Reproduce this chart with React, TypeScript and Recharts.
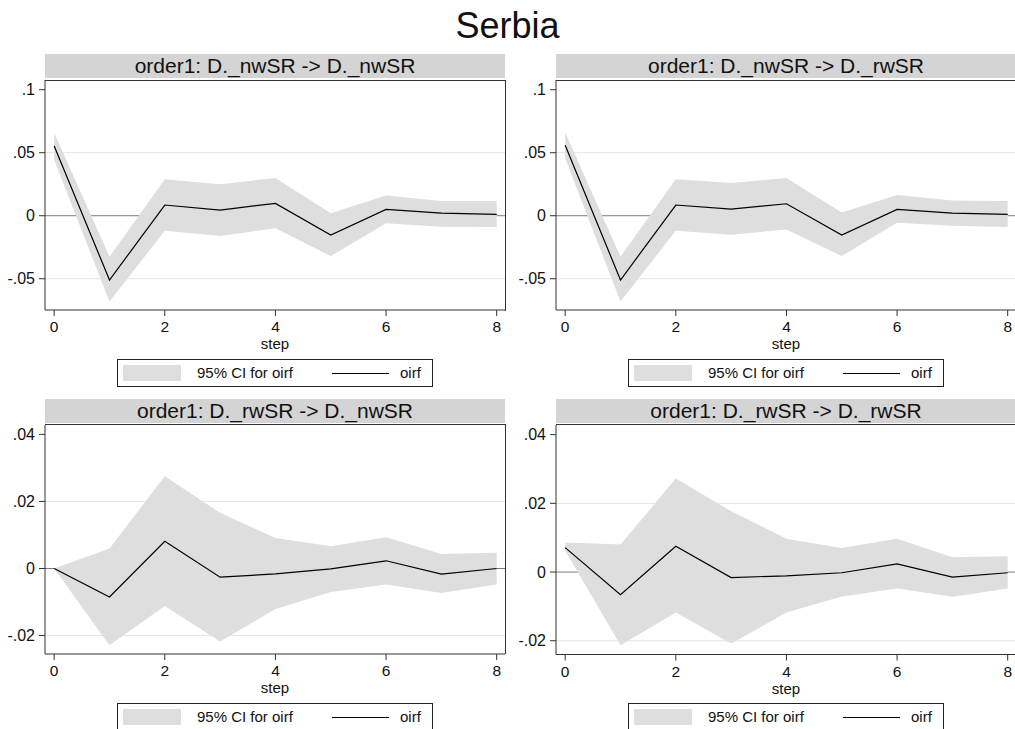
import React from "react";
import {
  ComposedChart,
  Area,
  Line,
  XAxis,
  YAxis,
  CartesianGrid,
} from "recharts";

// steps of the impulse response
const steps = [0, 1, 2, 3, 4, 5, 6, 7, 8];
const stepTicks = [0, 2, 4, 6, 8];

// order1: D._nwSR -> D._nwSR
const oirfNwNw = [0.0553, -0.051, 0.0085, 0.0045, 0.0098, -0.0153, 0.005, 0.002, 0.001];
const loNwNw = [0.0442, -0.068, -0.012, -0.016, -0.01, -0.032, -0.006, -0.0087, -0.009];
const hiNwNw = [0.0659, -0.0325, 0.029, 0.025, 0.03, 0.002, 0.016, 0.0117, 0.0117];

// order1: D._nwSR -> D._rwSR
const oirfNwRw = [0.0559, -0.051, 0.0085, 0.0053, 0.0095, -0.0153, 0.005, 0.0021, 0.0011];
const loNwRw = [0.0455, -0.068, -0.012, -0.015, -0.011, -0.032, -0.0055, -0.008, -0.009];
const hiNwRw = [0.066, -0.0325, 0.029, 0.026, 0.03, 0.0025, 0.0165, 0.012, 0.0117];

// order1: D._rwSR -> D._nwSR
const oirfRwNw = [0, -0.0085, 0.0081, -0.0026, -0.0016, -0.0001, 0.0023, -0.0017, 0];
const loRwNw = [0, -0.0229, -0.0112, -0.0218, -0.0121, -0.007, -0.0048, -0.0073, -0.0048];
const hiRwNw = [0, 0.006, 0.0275, 0.0166, 0.0091, 0.0066, 0.0093, 0.0043, 0.0047];

// order1: D._rwSR -> D._rwSR
const oirfRwRw = [0.0071, -0.0066, 0.0075, -0.0016, -0.0011, -0.0002, 0.0024, -0.0015, -0.0002];
const loRwRw = [0.0063, -0.0213, -0.0118, -0.0208, -0.0118, -0.0071, -0.0048, -0.0072, -0.0048];
const hiRwRw = [0.0086, 0.008, 0.0272, 0.0177, 0.0097, 0.007, 0.0097, 0.0043, 0.0046];

const topTicks = [-0.05, 0, 0.05, 0.1];
const topGrid = [-0.05, 0.05];
const bottomTicks = [-0.02, 0, 0.02, 0.04];
const bottomGrid = [-0.02, 0.02];

const FONT = "'Liberation Sans', Arial, Helvetica, sans-serif";
const CI_FILL = "#dedede";
const BAR_FILL = "#d4d4d4";
const AXIS = "#333333";

const fmtTick = (v: number) => {
  if (v === 0) return "0";
  const s = String(Math.round(v * 1000) / 1000);
  return s.replace("0.", ".");
};

interface PanelProps {
  title: string;
  left: number;
  top: number;
  height: number;
  oirf: number[];
  lo: number[];
  hi: number[];
  domain: [number, number];
  ticks: number[];
  grid: number[];
}

const PLOT_W = 460;
const Y_W = 45;
const M_TOP = 5;
const X_H = 50;

function Panel({ title, left, top, height, oirf, lo, hi, domain, ticks, grid }: PanelProps) {
  const data = steps.map((s, i) => ({
    step: s,
    oirf: oirf[i],
    ci: [lo[i], hi[i]],
  }));

  return (
    <>
      {/* title bar */}
      <div
        style={{
          position: "absolute",
          left: left + 0.5,
          top: top - 26,
          width: PLOT_W,
          height: 24,
          background: BAR_FILL,
          fontFamily: FONT,
          fontSize: 21,
          lineHeight: "24px",
          textAlign: "center",
          color: "#111",
          whiteSpace: "nowrap",
        }}
      >
        {title}
      </div>

      <div
        style={{
          position: "absolute",
          left: left - Y_W,
          top: top - M_TOP,
        }}
      >
        <ComposedChart
          width={Y_W + PLOT_W + 5}
          height={M_TOP + height + X_H}
          data={data}
          margin={{ top: M_TOP, right: 5, left: 0, bottom: 0 }}
        >
          <CartesianGrid
            horizontal={true}
            vertical={false}
            horizontalValues={grid}
            stroke="#e4e4e4"
            strokeWidth={1}
          />
          <CartesianGrid
            horizontal={true}
            vertical={false}
            horizontalValues={[0]}
            stroke="#7a7a7a"
            strokeWidth={1}
          />
          <XAxis
            dataKey="step"
            type="number"
            domain={[-0.166, 8.15]}
            ticks={stepTicks}
            allowDataOverflow
            height={X_H}
            tickSize={6}
            tickMargin={5}
            stroke={AXIS}
            tick={{ fill: "#111", fontSize: 15.5, fontFamily: FONT }}
            tickLine={{ stroke: AXIS }}
            label={{
              value: "step",
              position: "insideBottom",
              offset: 11,
              fill: "#111",
              fontSize: 15,
              fontFamily: FONT,
            }}
          />
          <YAxis
            type="number"
            domain={domain}
            ticks={ticks}
            allowDataOverflow
            width={Y_W}
            tickSize={6}
            tickMargin={4}
            stroke={AXIS}
            tickFormatter={fmtTick}
            tick={{ fill: "#111", fontSize: 16, fontFamily: FONT }}
            tickLine={{ stroke: AXIS }}
          />
          <Area
            type="linear"
            dataKey="ci"
            stroke="none"
            fill={CI_FILL}
            fillOpacity={1}
            isAnimationActive={false}
            activeDot={false}
          />
          <Line
            type="linear"
            dataKey="oirf"
            stroke="#000"
            strokeWidth={1.2}
            dot={false}
            activeDot={false}
            isAnimationActive={false}
          />
        </ComposedChart>
      </div>

      {/* plot region outline (top and right) */}
      <div
        style={{
          position: "absolute",
          left: left,
          top: top - 0.5,
          width: PLOT_W,
          height: height,
          borderTop: `1px solid ${AXIS}`,
          borderRight: `1px solid ${AXIS}`,
          pointerEvents: "none",
        }}
      />

      {/* legend */}
      <div
        style={{
          position: "absolute",
          left: left + 72.5,
          top: top + height + 49,
          width: 314,
          height: 26,
          border: "1px solid #222",
          background: "#fff",
          fontFamily: FONT,
          fontSize: 15,
          color: "#111",
        }}
      >
        <div
          style={{
            position: "absolute",
            left: 5,
            top: 5,
            width: 58,
            height: 16,
            background: CI_FILL,
          }}
        />
        <div style={{ position: "absolute", left: 79, top: 4, lineHeight: "18px", whiteSpace: "nowrap" }}>
          95% CI for oirf
        </div>
        <div
          style={{
            position: "absolute",
            left: 214,
            top: 13,
            width: 57,
            height: 1,
            background: "#000",
          }}
        />
        <div style={{ position: "absolute", left: 282, top: 4, lineHeight: "18px" }}>oirf</div>
      </div>
    </>
  );
}

export default function App() {
  return (
    <div
      style={{
        position: "absolute",
        left: 0,
        top: 0,
        width: 1015,
        height: 729,
        background: "#fff",
        overflow: "hidden",
      }}
    >
      <div
        style={{
          position: "absolute",
          left: 0,
          top: 4,
          width: 1015,
          textAlign: "center",
          fontFamily: FONT,
          fontSize: 36,
          lineHeight: "44px",
          color: "#111",
        }}
      >
        Serbia
      </div>
      <Panel
        title="order1: D._nwSR -> D._nwSR"
        left={44.5}
        top={80}
        height={230}
        oirf={oirfNwNw}
        lo={loNwNw}
        hi={hiNwNw}
        domain={[-0.0748, 0.1077]}
        ticks={topTicks}
        grid={topGrid}
      />
      <Panel
        title="order1: D._nwSR -> D._rwSR"
        left={555.5}
        top={80}
        height={230}
        oirf={oirfNwRw}
        lo={loNwRw}
        hi={hiNwRw}
        domain={[-0.0748, 0.1077]}
        ticks={topTicks}
        grid={topGrid}
      />
      <Panel
        title="order1: D._rwSR -> D._nwSR"
        left={44.5}
        top={424.5}
        height={229}
        oirf={oirfRwNw}
        lo={loRwNw}
        hi={hiRwNw}
        domain={[-0.0255, 0.0428]}
        ticks={bottomTicks}
        grid={bottomGrid}
      />
      <Panel
        title="order1: D._rwSR -> D._rwSR"
        left={555.5}
        top={424.5}
        height={229.5}
        oirf={oirfRwRw}
        lo={loRwRw}
        hi={hiRwRw}
        domain={[-0.024, 0.0428]}
        ticks={bottomTicks}
        grid={bottomGrid}
      />
    </div>
  );
}
